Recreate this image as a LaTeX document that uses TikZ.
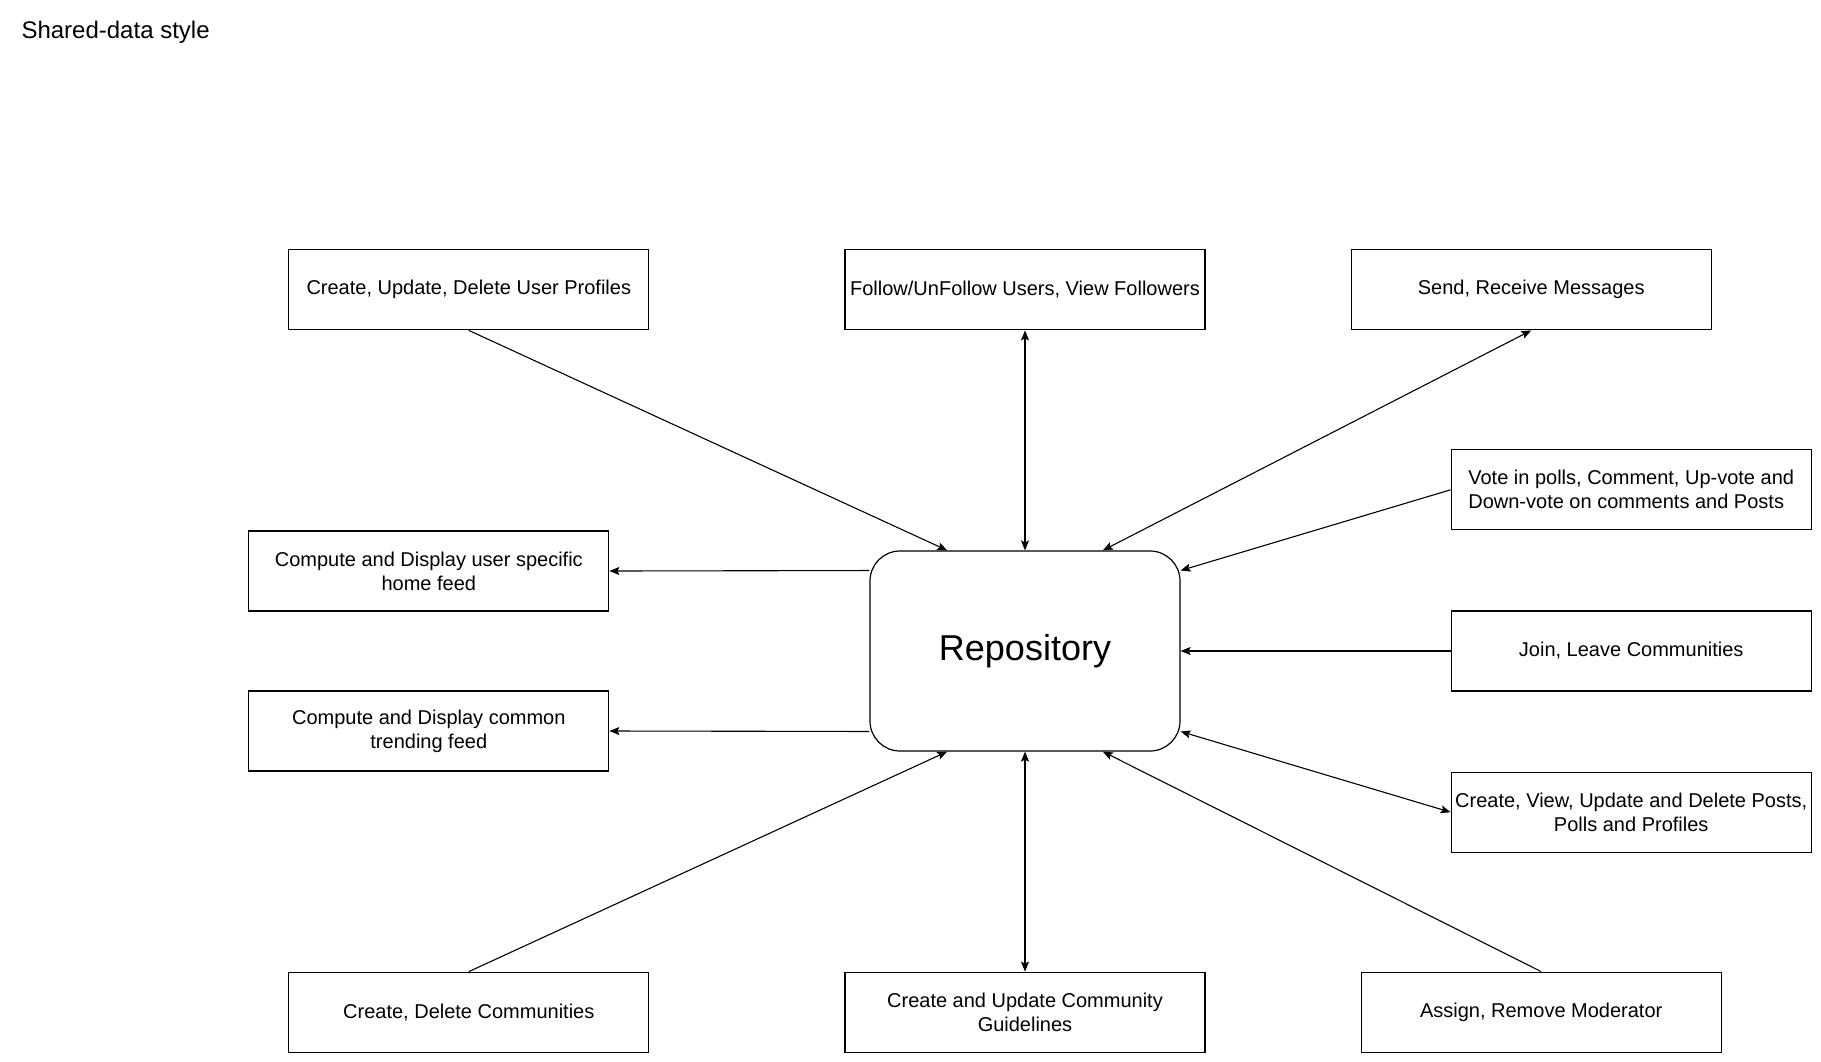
\documentclass[tikz,border=0pt]{standalone}
\usepackage{fontspec}
\setmainfont{Liberation Sans}
\usetikzlibrary{arrows.meta,positioning,calc}

\begin{document}
\begin{tikzpicture}[
    x=1pt, y=-1pt,
    node distance=80pt,
    box/.style={rectangle, draw, line width=1.2pt, minimum width=360pt, minimum height=80pt, inner sep=2pt, align=center, font=\fontsize{20}{24}\selectfont},
    hub/.style={rectangle, draw, rounded corners=30pt, line width=1.2pt, minimum width=310pt, minimum height=200pt, font=\fontsize{36}{43}\selectfont},
    arrow/.style={-{Stealth[length=10pt,width=8pt,inset=2pt]}, line width=1.1pt},
    both/.style={{Stealth[length=10pt,width=8pt,inset=2pt]}-{Stealth[length=10pt,width=8pt,inset=2pt]}, line width=1.1pt}
]
\useasboundingbox (0,0) rectangle (1821,1061);

% Title
\node[anchor=base west, font=\fontsize{24}{29}\selectfont] (title) at (18,38) {Shared-data style};

% Central store
\node[hub] (store) at (1025,651) {Repository};

% Top row
\node[box, above=220pt of store] (follow) {Follow/UnFollow Users, View Followers};
\node[box, left=195pt of follow] (profiles) {Create, Update, Delete User Profiles};
\node[box, right=145pt of follow] (messages) {Send, Receive Messages};

% Right column
\node[box, right=270pt of store] (join) {Join, Leave Communities};
\node[box, above=of join, align=left] (vote) {Vote in polls, Comment, Up-vote and\\Down-vote on comments and Posts};
\node[box, below=of join] (posts) {Create, View, Update and Delete Posts,\\Polls and Profiles};

% Left column
\node[box, left=260pt of store.west, yshift=80pt] (homefeed) {Compute and Display user specific\\home feed};
\node[box, left=260pt of store.west, yshift=-80pt] (trending) {Compute and Display common\\trending feed};

% Bottom row
\node[box, below=220pt of store] (guidelines) {Create and Update Community\\Guidelines};
\node[box, left=195pt of guidelines] (communities) {Create, Delete Communities};
\node[box, right=155pt of guidelines] (moderator) {Assign, Remove Moderator};

% Attachment points on the store
\coordinate (topA) at ($(store.north west)!0.25!(store.north east)$);
\coordinate (topB) at ($(store.north west)!0.75!(store.north east)$);
\coordinate (botA) at ($(store.south west)!0.25!(store.south east)$);
\coordinate (botB) at ($(store.south west)!0.75!(store.south east)$);
\coordinate (rightA) at ($(store.north east)!0.1!(store.south east)$);
\coordinate (rightB) at ($(store.north east)!0.9!(store.south east)$);
\coordinate (leftA) at ($(store.north west)!0.1!(store.south west)$);
\coordinate (leftB) at ($(store.north west)!0.9!(store.south west)$);

% Arrows
\draw[arrow] (profiles.south) -- (topA);
\draw[both] (follow) -- (store);
\draw[both] (messages.south) -- (topB);
\draw[arrow] (vote.west) -- (rightA);
\draw[arrow] (join) -- (store);
\draw[both] (posts.west) -- (rightB);
\draw[arrow] (moderator.north) -- (botB);
\draw[both] (guidelines) -- (store);
\draw[arrow] (communities.north) -- (botA);
\draw[arrow] (leftA) -- (homefeed.east);
\draw[arrow] (leftB) -- (trending.east);

\end{tikzpicture}
\end{document}
